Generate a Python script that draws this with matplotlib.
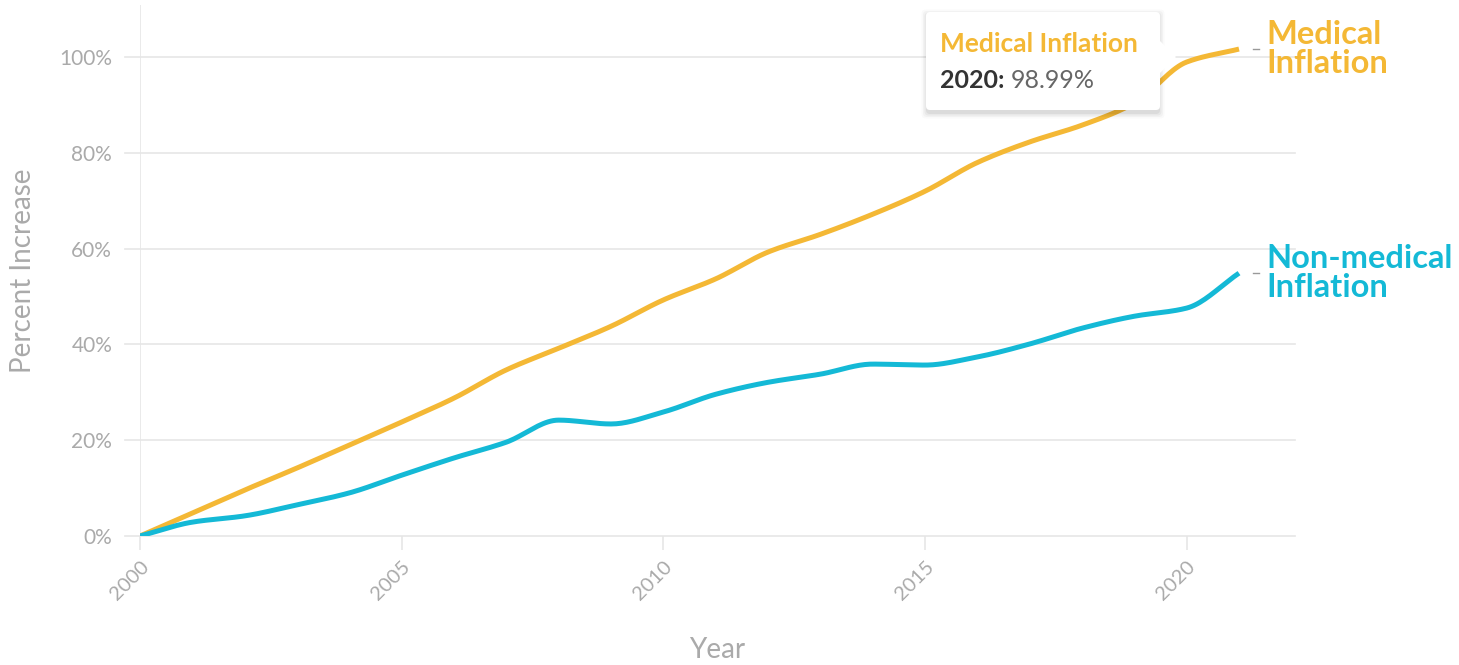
import numpy as np
import matplotlib
matplotlib.use("Agg")
import matplotlib.pyplot as plt
from matplotlib.patches import FancyBboxPatch, Polygon

years = list(range(2000, 2022))
medical = [0, 4.8, 9.6, 14.2, 19.0, 23.8, 28.8, 34.7, 39.2, 43.8, 49.3, 53.7,
           59.3, 63.0, 67.2, 72.0, 78.0, 82.3, 85.8, 90.4, 98.99, 101.7]
nonmedical = [0, 2.9, 4.2, 6.5, 9.0, 12.7, 16.3, 19.6, 24.2, 23.4, 25.9, 29.6,
              32.1, 33.8, 35.9, 35.7, 37.4, 40.1, 43.4, 45.9, 47.6, 54.9]
series_names = ["Medical\nInflation", "Non-medical\nInflation"]
yticks = [0, 20, 40, 60, 80, 100]
xticks = [2000, 2005, 2010, 2015, 2020]
tooltip_title = "Medical Inflation"
tooltip_year = 2020
tooltip_value = 98.99

GOLD = "#F4B835"
CYAN = "#14B9D6"
GRAY = "#AAAAAA"
FONT = "Lato"
W, H = 1459, 665

def pchip(x, y, n=20):
    x = np.asarray(x, float); y = np.asarray(y, float)
    h = np.diff(x); d = np.diff(y) / h
    m = np.zeros_like(y)
    for k in range(1, len(x) - 1):
        if d[k-1] * d[k] > 0:
            w1 = 2*h[k] + h[k-1]; w2 = h[k] + 2*h[k-1]
            m[k] = (w1 + w2) / (w1/d[k-1] + w2/d[k])
    m[0] = d[0]; m[-1] = d[-1]
    xs, ys = [], []
    for k in range(len(x) - 1):
        t = np.linspace(0, 1, n, endpoint=False)
        h00 = 2*t**3 - 3*t**2 + 1; h10 = t**3 - 2*t**2 + t
        h01 = -2*t**3 + 3*t**2; h11 = t**3 - t**2
        xs.append(x[k] + t*h[k])
        ys.append(h00*y[k] + h10*h[k]*m[k] + h01*y[k+1] + h11*h[k]*m[k+1])
    xs.append([x[-1]]); ys.append([y[-1]])
    return np.concatenate(xs), np.concatenate(ys)

fig = plt.figure(figsize=(W/100, H/100), dpi=100)
ax = fig.add_axes([140/W, 129/H, (1295-140)/W, (536-5)/H])
ax.set_xlim(2000, 2022.07)
ax.set_ylim(0, 110.9)

for sp in ax.spines.values():
    sp.set_visible(False)
ax.axvline(2000, color="#E6E6E6", lw=1.2, zorder=1)
for yv in yticks:
    ax.axhline(yv, color="#E6E6E6", lw=1.2, zorder=1, xmin=-0.013, clip_on=False)

ax.set_yticks(yticks)
ax.set_yticklabels([f"{v}%" for v in yticks], fontfamily=FONT, fontsize=15, color=GRAY)
ax.tick_params(axis="y", length=0, pad=20)
ax.set_xticks(xticks)
ax.set_xticklabels([str(v) for v in xticks], fontfamily=FONT, fontsize=14.5, color=GRAY,
                   rotation=45, ha="right", va="top", rotation_mode="anchor")
ax.tick_params(axis="x", length=10, color="#E6E6E6", width=1.2, pad=6)
ax.set_ylabel("Percent Increase", fontfamily=FONT, fontsize=20, color=GRAY)
ax.yaxis.set_label_coords(-0.09, 0.5)
ax.set_xlabel("Year", fontfamily=FONT, fontsize=20, color=GRAY)
ax.xaxis.set_label_coords(0.5, -0.19)

for vals, col, name in [(medical, GOLD, series_names[0]), (nonmedical, CYAN, series_names[1])]:
    xs, ys = pchip(years, vals)
    ax.plot(xs, ys, color=col, lw=3.6, solid_capstyle="butt", zorder=3)
    ax.plot([years[-1] + 0.27, years[-1] + 0.38], [vals[-1], vals[-1]], color="#999999", lw=1, clip_on=False)
    ax.annotate(name, xy=(years[-1], vals[-1]), xytext=(20, 0), textcoords="offset points",
                fontfamily=FONT, fontweight="bold", fontsize=23.5, color=col,
                va="center", ha="left", linespacing=0.98, annotation_clip=False)

# tooltip on an overlay axes in pixel coordinates
ov = fig.add_axes([0, 0, 1, 1], zorder=5)
ov.set_xlim(0, W); ov.set_ylim(H, 0); ov.axis("off")
ov.patch.set_alpha(0)
bx0, by0, bx1, by1 = 926, 12, 1160, 110
for i, a in enumerate([0.05, 0.04, 0.03, 0.02]):
    g = 1 + i * 1.5
    ov.add_patch(FancyBboxPatch((bx0 - g + 1, by0 - g + 3), bx1 - bx0 + 2*g - 2, by1 - by0 + 2*g,
                                boxstyle="round,pad=0,rounding_size=4", facecolor="black",
                                alpha=a, edgecolor="none"))
ov.add_patch(FancyBboxPatch((bx0, by0), bx1 - bx0, by1 - by0, boxstyle="round,pad=0,rounding_size=4",
                            facecolor="white", edgecolor="none"))
ov.add_patch(Polygon([(bx1 - 1, 40), (bx1 + 16, 57), (bx1 - 1, 74)], closed=True,
                     facecolor="white", edgecolor="none"))
ov.text(940, 44, tooltip_title, fontfamily=FONT, fontweight="bold", fontsize=19,
        color=GOLD, va="center", ha="left")
t1 = ov.text(940, 80, f"{tooltip_year}:", fontfamily=FONT, fontweight="bold", fontsize=18,
             color="#333333", va="center", ha="left")
fig.canvas.draw()
bb = t1.get_window_extent()
ov.text(bb.x1 + 6, 80, f"{tooltip_value:.2f}%", fontfamily=FONT, fontsize=18,
        color="#666666", va="center", ha="left")

fig.savefig("out.png", dpi=100, facecolor="white")
